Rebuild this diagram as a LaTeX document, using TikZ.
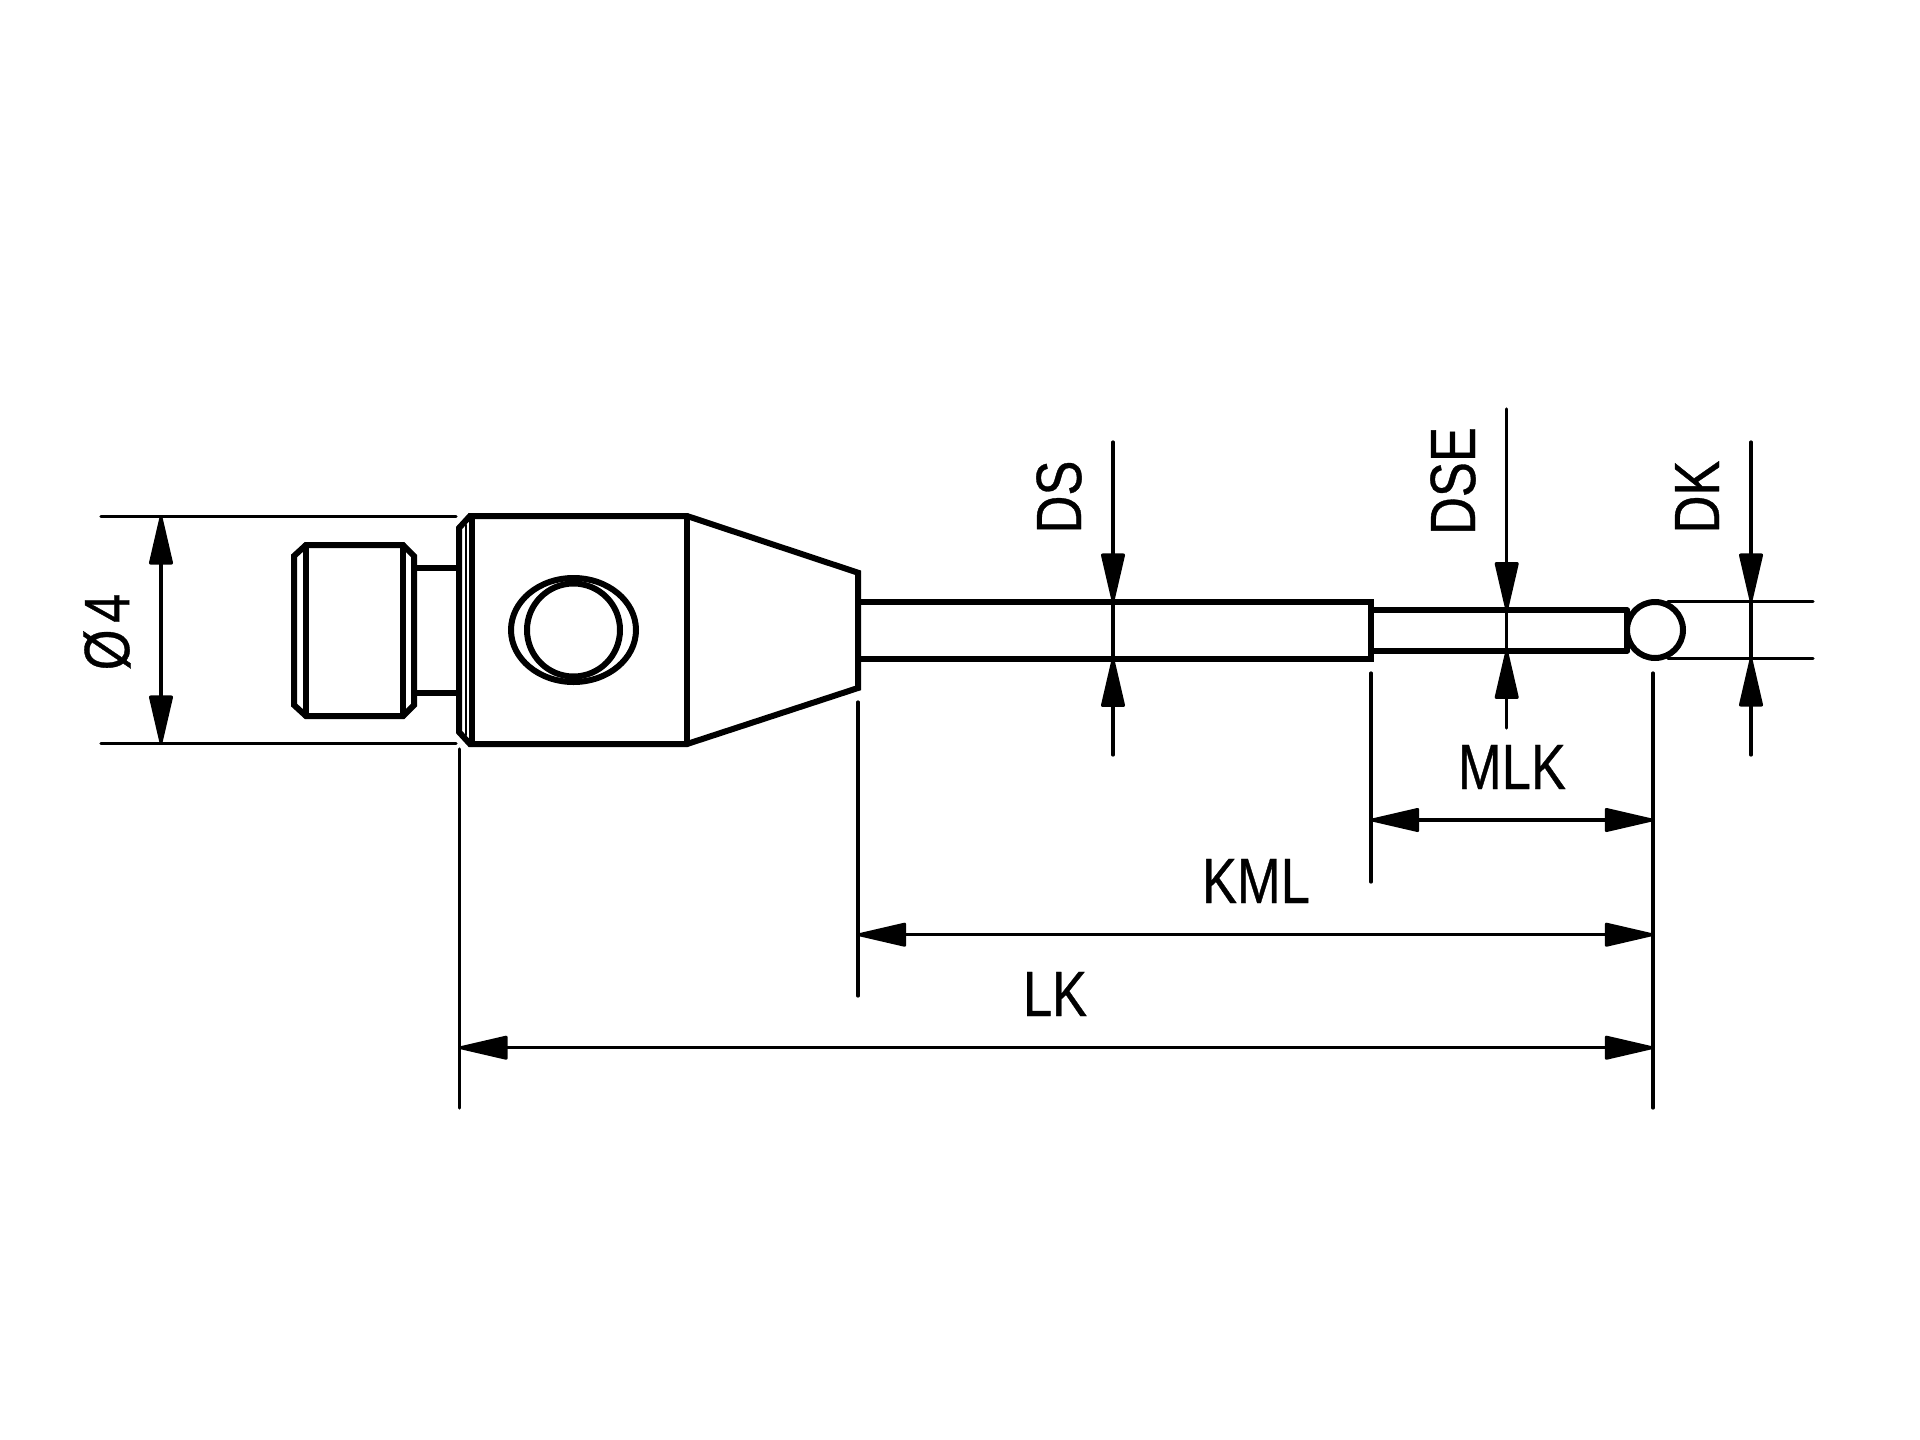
\documentclass[tikz,border=0pt]{standalone}
\usepackage{fontspec}
\setmainfont[FakeBold=0.6]{Liberation Sans}
\usetikzlibrary{arrows.meta}
\tikzset{
  x=1pt,y=-1pt,
  thickline/.style={line width=6pt,line join=miter,line cap=round},
  finline/.style={line width=2.8pt,line cap=round},
  extline/.style={line width=3.2pt,line cap=round},
  dimboth/.style={line width=3.2pt,{Triangle[length=54pt,width=24pt,round]}-{Triangle[length=54pt,width=24pt,round]}},
  dimin/.style={line width=3.2pt,line cap=round,-{Triangle[length=54pt,width=24pt,round]}},
  lbl/.style={inner sep=0pt,outer sep=0pt,font=\fontsize{64}{64}\selectfont,anchor=center},
}
\newcommand{\narrowtxt}[1]{\scalebox{.82}[1]{#1}}
\begin{document}
\begin{tikzpicture}
\useasboundingbox (0,0) rectangle (1920,1440);
% plug
\draw[thickline] (306,545) -- (403,545) -- (414,556) -- (414,705) -- (403,716) -- (306,716) -- (294,705) -- (294,556) -- cycle;
\draw[thickline] (306,545) -- (306,716);
\draw[thickline] (403,545) -- (403,716);
% neck
\draw[thickline] (414,567.7) -- (459,567.7);
\draw[thickline] (414,693) -- (459,693);
% body and cone
\draw[thickline] (470,516) -- (687,516) -- (858,572.7) -- (858,688) -- (687,744) -- (470,744) -- (459,732) -- (459,528) -- cycle;
\draw[thickline] (472,516) -- (472,744);
\draw[thickline] (687,516) -- (687,744);
\draw[finline] (466,525) -- (466,735);
% cross hole
\draw[thickline] (573.5,630) ellipse [x radius=62.5,y radius=52];
\draw[thickline] (573.5,630) circle [radius=46.5];
% stems
\draw[thickline] (858,601.7) -- (1371,601.7) -- (1371,658.7) -- (858,658.7);
\draw[thickline] (1371,610.3) -- (1627,610.3);
\draw[thickline] (1371,650.7) -- (1627,650.7);
\draw[thickline] (1627,610.3) -- (1627,650.7);
\draw[thickline,fill=white] (1655,630) circle [radius=28];
% extension coordinates
\coordinate (dA) at (161,516.3);
\coordinate (dB) at (161,743.7);
\coordinate (lA) at (459.5,1047.7);
\coordinate (lB) at (1653,1047.7);
\coordinate (kA) at (858,934.7);
\coordinate (kB) at (1653,934.7);
\coordinate (mA) at (1371,820);
\coordinate (mB) at (1653,820);
\coordinate (dsT) at (1113,442);
\coordinate (dsU) at (1113,601.7);
\coordinate (dsL) at (1113,658.7);
\coordinate (dsB) at (1113,755);
\coordinate (seT) at (1506.7,409);
\coordinate (seU) at (1506.7,610.3);
\coordinate (seL) at (1506.7,650.7);
\coordinate (seB) at (1506.7,728);
\coordinate (dkT) at (1751,442);
\coordinate (dkU) at (1751,601.7);
\coordinate (dkL) at (1751,658.3);
\coordinate (dkB) at (1751,755);
% extension lines
\draw[extline] (101,516.3) -- (456,516.3);
\draw[extline] (101,743.7) -- (456,743.7);
\draw[extline] (459.5,749) -- (459.5,1108);
\draw[extline] (858,702) -- (858,996);
\draw[extline] (1371,673) -- (1371,882);
\draw[extline] (1653,673) -- (1653,1108);
\draw[extline] (1668,601.7) -- (1813,601.7);
\draw[extline] (1668,658.3) -- (1813,658.3);
% dimension lines
\draw[dimboth] (dA) -- (dB);
\draw[dimboth] (lA) -- (lB);
\draw[dimboth] (kA) -- (kB);
\draw[dimboth] (mA) -- (mB);
\draw[dimin] (dsT) -- (dsU);
\draw[dimin] (dsB) -- (dsL);
\draw[extline] (dsU) -- (dsL);
\draw[dimin] (seT) -- (seU);
\draw[dimin] (seB) -- (seL);
\draw[extline] (seU) -- (seL);
\draw[dimin] (dkT) -- (dkU);
\draw[dimin] (dkB) -- (dkL);
\draw[extline] (dkU) -- (dkL);
% labels
\node[lbl,rotate=90] (tdia) at (107,632) {\narrowtxt{Ø\hspace{8pt}4}};
\node[lbl,rotate=90] (tds) at (1059,497) {\narrowtxt{DS}};
\node[lbl,rotate=90] (tdse) at (1453,481) {\narrowtxt{DSE}};
\node[lbl,rotate=90] (tdk) at (1697,497) {\narrowtxt{DK}};
\node[lbl] (tmlk) at (1512,767) {\narrowtxt{MLK}};
\node[lbl] (tkml) at (1256,881) {\narrowtxt{KML}};
\node[lbl] (tlk) at (1055,994) {\narrowtxt{LK}};
\end{tikzpicture}
\end{document}
